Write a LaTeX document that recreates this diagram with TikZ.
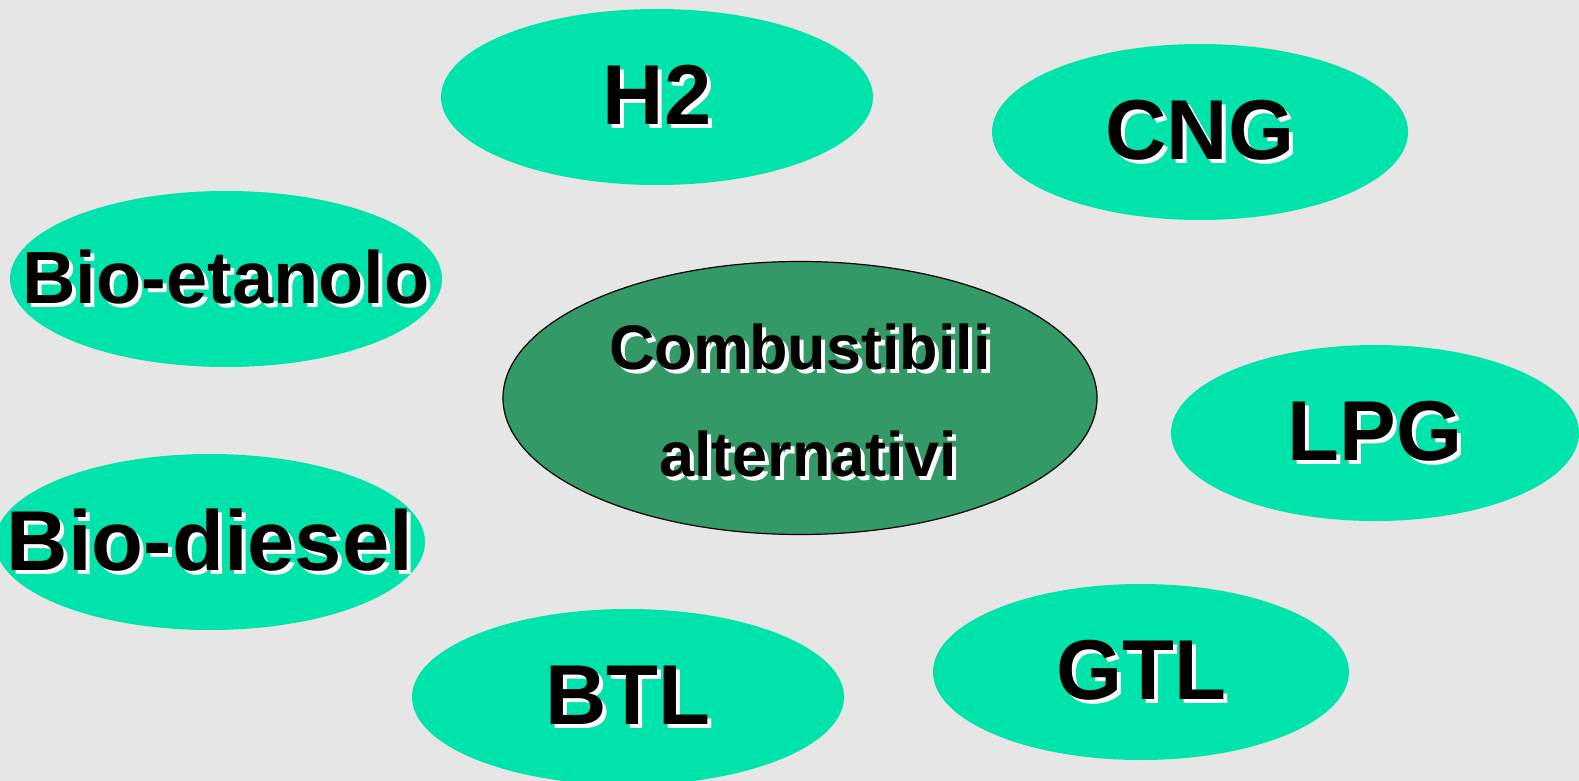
\documentclass[tikz,border=0pt]{standalone}
\usepackage{fontspec}
\setmainfont{Liberation Sans}
\usetikzlibrary{shapes.geometric}
\definecolor{bggray}{RGB}{230,230,230}
\definecolor{fuelgreen}{RGB}{0,227,170}
\definecolor{hubgreen}{RGB}{51,153,102}
% black letters with a white copy set behind, slightly down and right
\newcommand\shtext[1]{\rlap{\kern4pt\raisebox{-4pt}{\color{white}#1}}#1}
\tikzstyle{fuel}=[ellipse,fill=fuelgreen,inner sep=0pt,minimum height=176pt]
\tikzstyle{hub}=[ellipse,draw=black,line width=1.2pt,fill=hubgreen,inner sep=0pt]
\tikzstyle{big}=[font=\fontsize{85}{90}\selectfont\bfseries]
\tikzstyle{mid}=[font=\fontsize{74}{80}\selectfont\bfseries]

\begin{document}
\begin{tikzpicture}[x=1pt,y=-1pt]
  \path[use as bounding box,fill=bggray] (0,0) rectangle (1579,781);
  \clip (0,0) rectangle (1579,781);

  \node[hub,minimum width=594pt,minimum height=273pt] (hub) at (800,398) {};
  \node[align=center,font=\fontsize{63}{107}\selectfont\bfseries] (hubtext) at (800,402)
    {\shtext{Combustibili}\\\hspace*{16pt}\shtext{alternativi}};

  \node[fuel,minimum width=432pt,label={[big]center:\shtext{H2}}]          (h2)  at (657,97)  {};
  \node[fuel,minimum width=416pt,label={[big]center:\shtext{CNG}}]         (cng) at (1200,132) {};
  \node[fuel,minimum width=432pt,label={[mid]center:\shtext{Bio-etanolo}}] (eta) at (226,279) {};
  \node[fuel,minimum width=408pt,label={[big]center:\shtext{LPG}}]         (lpg) at (1375,433) {};
  \node[fuel,minimum width=430pt,label={[big]center:\shtext{Bio-diesel}}]  (die) at (210,542) {};
  \node[fuel,minimum width=432pt,label={[big]center:\shtext{BTL}}]         (btl) at (628,697) {};
  \node[fuel,minimum width=416pt,label={[big]center:\shtext{GTL}}]         (gtl) at (1141,672) {};
\end{tikzpicture}
\end{document}
